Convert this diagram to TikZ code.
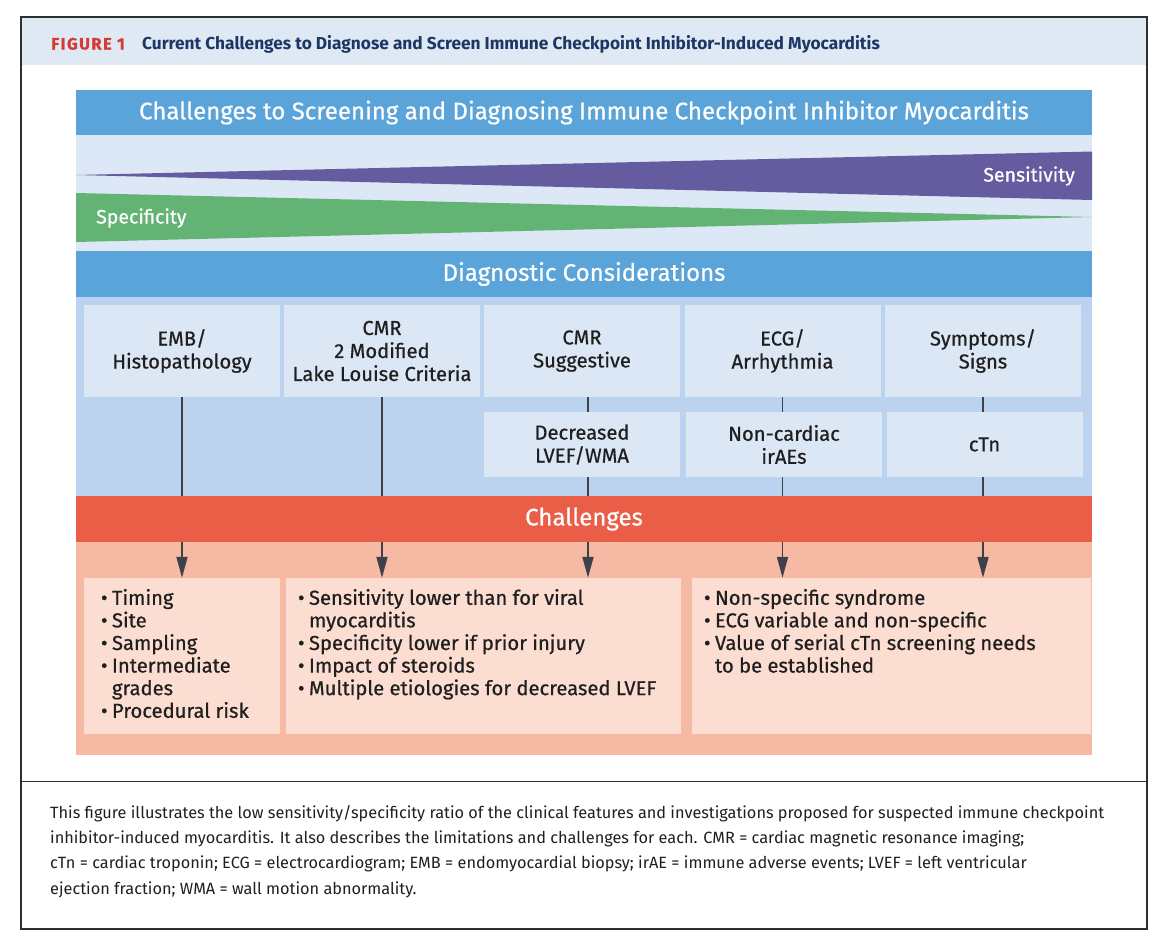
\documentclass[tikz,border=0pt]{standalone}
\usepackage{fontspec}
\setmainfont{Fira Sans}
\newfontfamily\medfont{Fira Sans}[FakeBold=0.6]
\usetikzlibrary{arrows.meta,positioning}
\definecolor{hdrband}{HTML}{DFE9F4}
\definecolor{figred}{HTML}{D63A34}
\definecolor{navy}{HTML}{1C3764}
\definecolor{barblue}{HTML}{5BA4D9}
\definecolor{bandblue}{HTML}{DCE8F5}
\definecolor{sensviolet}{HTML}{655B9F}
\definecolor{specgreen}{HTML}{63B474}
\definecolor{regblue}{HTML}{BBD3EE}
\definecolor{boxblue}{HTML}{DBE7F5}
\definecolor{chred}{HTML}{EA5E48}
\definecolor{chsalmon}{HTML}{F6BAA4}
\definecolor{chfill}{HTML}{FBDDD1}
\definecolor{linegray}{HTML}{3E4147}
\definecolor{ink}{HTML}{1F1F1F}
\definecolor{framegray}{HTML}{2E2E2E}
\newcommand{\bul}{\makebox[11pt][l]{\textbullet}}
\newcommand{\cont}{\hspace*{11pt}}
\tikzset{
  >=Stealth,
  bar/.style={rectangle, fill=barblue, text=white, minimum width=1016pt, minimum height=46pt, inner sep=0pt, font=\fontsize{24}{27}\medfont},
  cons/.style={rectangle, fill=boxblue, text=ink, minimum width=196pt, minimum height=92pt, inner sep=0pt, align=center, font=\fontsize{20.2}{23}\medfont},
  chbox/.style={rectangle, fill=chfill, minimum height=156pt, inner sep=0pt},
  lst/.style={anchor=north west, align=left, inner sep=0pt, text=ink, font=\fontsize{20.2}{22.6}\medfont},
  wedge/.style={text=white, inner sep=0pt, font=\fontsize{19.5}{22}\medfont},
  link/.style={line width=1.8pt, draw=linegray},
  arr/.style={link, -{Triangle[length=21pt, width=11pt]}}
}
\begin{document}
\begin{tikzpicture}[x=1pt, y=-1pt]
    \useasboundingbox (0,0) rectangle (1158,938);

    % Frame and figure header
    \fill[hdrband] (21,17) rectangle (1147,65);
    \draw[line width=1.6pt, framegray] (21,17) rectangle (1147,929);
    \draw[line width=1.6pt, framegray] (21,781.5) -- (1147,781.5);
    \node[anchor=base west, inner sep=0pt, text=figred, font=\fontsize{16.5}{18}\selectfont\bfseries] (fig) at (51,49.5) {\addfontfeature{LetterSpace=9,FakeBold=1}FIGURE 1};
    \node[anchor=base west, inner sep=0pt, text=navy, font=\fontsize{17.3}{19}\selectfont\bfseries] (ttl) at (142,49.5) {Current Challenges to Diagnose and Screen Immune Checkpoint Inhibitor-Induced Myocarditis};

    % Sensitivity / specificity wedges
    \fill[bandblue] (76,135) rectangle (1092,251);
    \node[bar, minimum height=45pt] (head) at (584,112.5) {Challenges to Screening and Diagnosing Immune Checkpoint Inhibitor Myocarditis};
    \fill[sensviolet] (76,175) -- (1092,151.5) -- (1092,200) -- cycle;
    \fill[specgreen] (76,193) -- (76,242) -- (1092,217) -- cycle;
    \node[wedge, anchor=east] (sens) at (1075,176) {Sensitivity};
    \node[wedge, anchor=west] (spec) at (96,218) {Specificity};

    % Diagnostic considerations
    \fill[regblue] (76,297) rectangle (1092,496);
    \node[bar] (diag) at (584,274) {Diagnostic Considerations};
    \node[cons] (emb) at (182,351) {EMB/\\Histopathology};
    \node[cons] (llc) at (382,351) {CMR\\2 Modified\\Lake Louise Criteria};
    \node[cons] (cmrs) at (582,351) {CMR\\Suggestive};
    \node[cons] (ecg) at (782.5,351) {ECG/\\Arrhythmia};
    \node[cons] (sym) at (983,351) {Symptoms/\\Signs};
    \node[cons, minimum height=65pt] (lvef) at (582,444.5) {Decreased\\LVEF/WMA};
    \node[cons, minimum height=65pt] (irae) at (784,444.5) {Non-cardiac\\irAEs};
    \node[cons, minimum height=65pt] (ctn) at (984.5,444.5) {cTn};

    % Challenges
    \fill[chsalmon] (76,542) rectangle (1092,754.5);
    \node[bar, fill=chred] (chal) at (584,519) {Challenges};
    \node[chbox, minimum width=196pt] (chA) at (182,656) {};
    \node[chbox, minimum width=395pt] (chB) at (483.5,656) {};
    \node[chbox, minimum width=399pt] (chC) at (891.5,656) {};
    \node[lst] (lstA) at ([xshift=17pt, yshift=-11pt]chA.north west) {\bul Timing\\\bul Site\\\bul Sampling\\\bul Intermediate\\\cont grades\\\bul Procedural risk};
    \node[lst] (lstB) at ([xshift=12pt, yshift=-11pt]chB.north west) {\bul Sensitivity lower than for viral\\\cont myocarditis\\\bul Specificity lower if prior injury\\\bul Impact of steroids\\\bul Multiple etiologies for decreased LVEF};
    \node[lst] (lstC) at ([xshift=12pt, yshift=-11pt]chC.north west) {\bul Non-specific syndrome\\\bul ECG variable and non-specific\\\bul Value of serial cTn screening needs\\\cont to be established};

    % Links from considerations to challenges
    \draw[link] (emb) -- (emb |- chal.north);
    \draw[arr] (emb |- chal.south) -- (emb |- chA.north);
    \draw[link] (llc) -- (llc |- chal.north);
    \draw[arr] (llc |- chal.south) -- (llc |- chB.north);
    \coordinate (cmrx) at ([xshift=6pt]cmrs.south);
    \draw[link] (cmrx) -- (cmrx |- lvef.north);
    \draw[link] (cmrx |- lvef.south) -- (cmrx |- chal.north);
    \draw[arr] (cmrx |- chal.south) -- (cmrx |- chB.north);
    \draw[link] (ecg) -- (ecg |- irae.north);
    \draw[link] (ecg |- irae.south) -- (ecg |- chal.north);
    \draw[arr] (ecg |- chal.south) -- (ecg |- chC.north);
    \draw[link] (sym) -- (sym |- ctn.north);
    \draw[link] (sym |- ctn.south) -- (sym |- chal.north);
    \draw[arr] (sym |- chal.south) -- (sym |- chC.north);

    % Caption
    \node[anchor=north west, align=left, inner sep=0pt, text=ink, font=\fontsize{16.3}{25.3}\selectfont] (cap) at (50,805) {This figure illustrates the low sensitivity/specificity ratio of the clinical features and investigations proposed for suspected immune checkpoint\\inhibitor-induced myocarditis. It also describes the limitations and challenges for each. CMR = cardiac magnetic resonance imaging;\\cTn = cardiac troponin; ECG = electrocardiogram; EMB = endomyocardial biopsy; irAE = immune adverse events; LVEF = left ventricular\\ejection fraction; WMA = wall motion abnormality.};
\end{tikzpicture}
\end{document}
